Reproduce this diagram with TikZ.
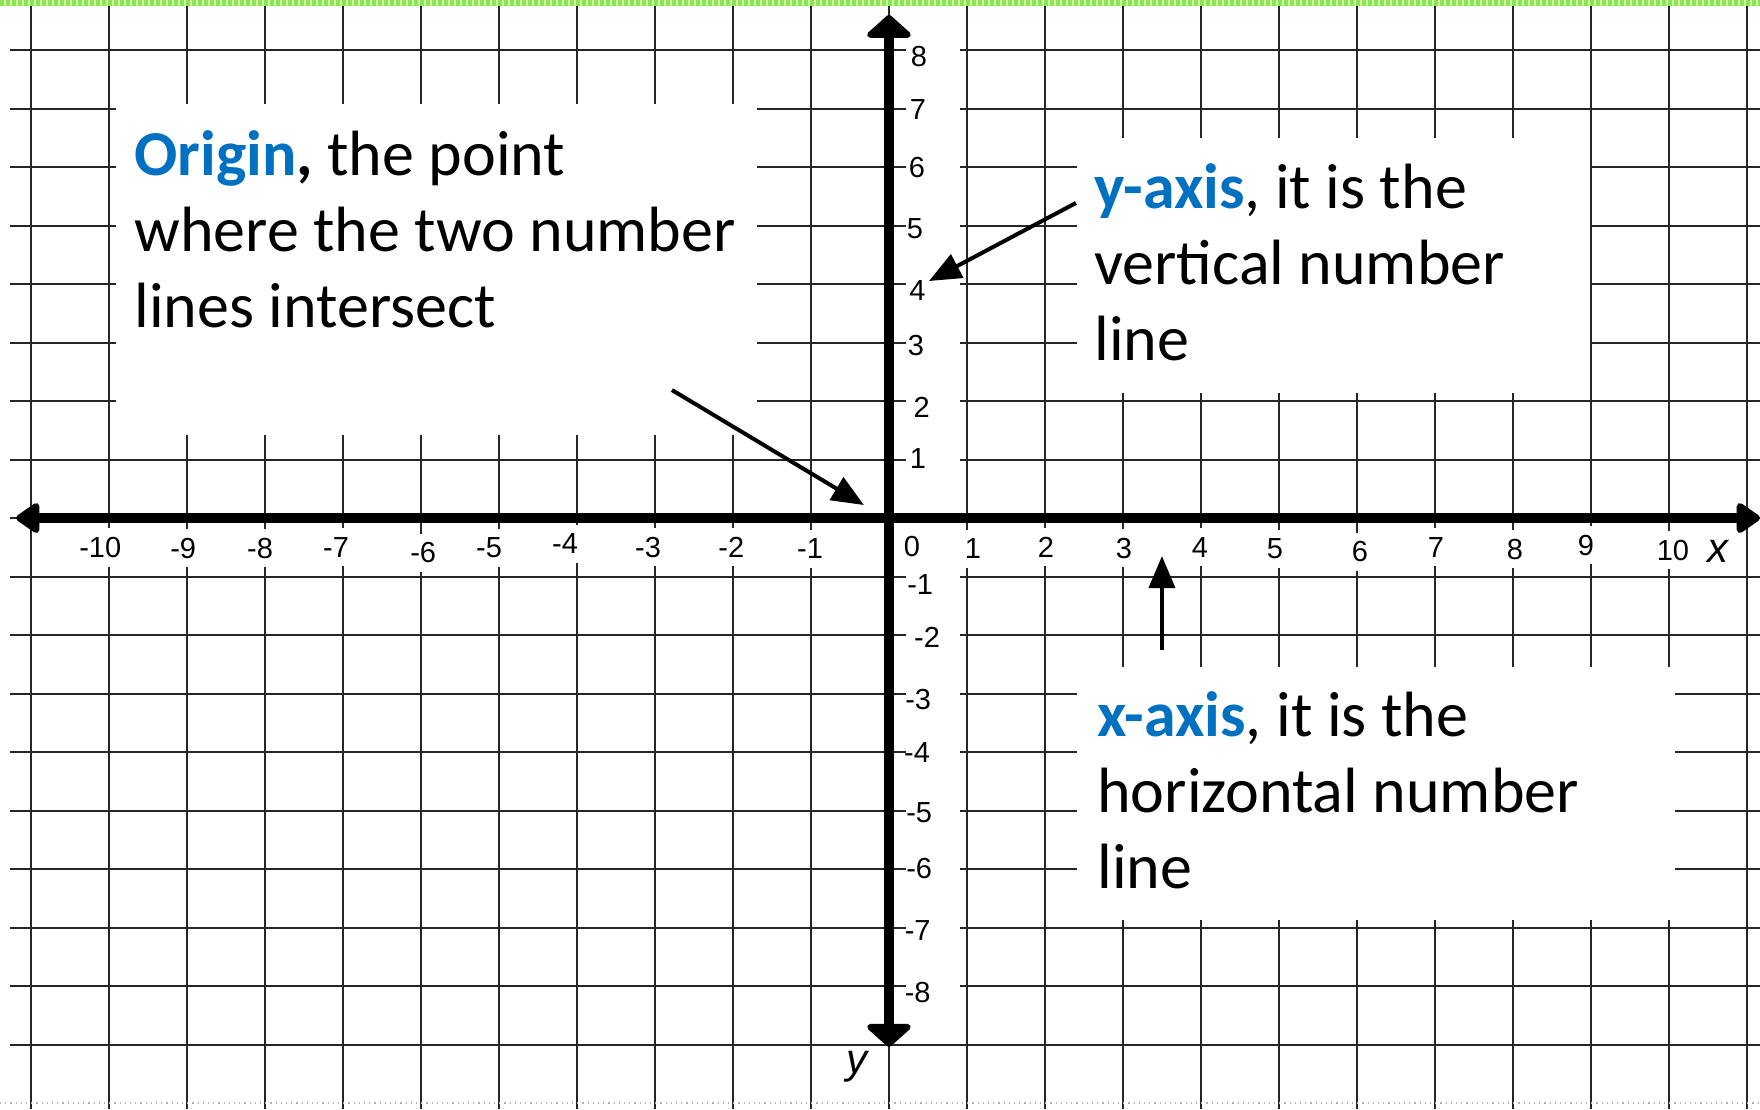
\documentclass[tikz,border=0pt]{standalone}
\usepackage{fontspec}
\setmainfont{Carlito}
\newfontfamily\axisfont{Liberation Sans}
\usetikzlibrary{arrows.meta, positioning}

\definecolor{headblue}{RGB}{0,112,192}
\definecolor{sheetgreen}{RGB}{140,228,80}
\definecolor{palegreen}{RGB}{205,245,175}

\newcommand\negsign{\llap{-}}

\tikzset{
  gridline/.style={line width=1pt, black!85},
  axisline/.style={line width=5pt, black},
  notebox/.style={fill=white, inner sep=0pt, anchor=north west},
  notetext/.style={inner sep=0pt, align=left, font=\fontsize{32}{38}\selectfont},
  xlab/.style={fill=white, inner xsep=1.5pt, inner ysep=4.5pt, font=\axisfont\fontsize{14.5}{17}\selectfont},
  ylab/.style={inner sep=0pt, font=\axisfont\fontsize{14.5}{17}\selectfont},
  varlab/.style={inner sep=0pt, font=\axisfont\itshape\fontsize{21}{24}\selectfont},
  pointer/.style={line width=2pt, -{Triangle[length=16pt, width=13pt]}},
}

\begin{document}
\begin{tikzpicture}[x=39pt, y=29.25pt]
  % sheet
  \fill[white] (-11.397,-10.103) rectangle (11.167,8.855);
  \useasboundingbox (-11.397,-10.103) rectangle (11.167,8.855);
  \draw[palegreen, line width=3pt] (-11.397,8.803) -- (11.167,8.803);
  \draw[sheetgreen, line width=3pt, dash pattern=on 2pt off 1pt] (-11.397,8.803) -- (11.167,8.803);

  % grid
  \foreach \gx in {-11,...,11}
    \draw[gridline] (\gx,8.75) -- (\gx,-10.103);
  \foreach \gy in {-9,...,8}
    \draw[gridline] (-11.27,\gy) -- (11.167,\gy);
  \draw[black!30, line width=0.6pt, dotted] (-11.397,-10) -- (11.167,-10);

  % white strip behind the y numbers
  \fill[white] (0.22,8.75) rectangle (0.91,-8.75);

  % notes
  \node[notebox, minimum width=320.5pt, minimum height=165.5pt] (orgbox) at (-9.91,7.077) {};
  \node[notetext, below right=13.3pt and 9pt of orgbox.north west] (orgtext)
    {\textcolor{headblue}{\textbf{Origin}}\textbf{,} the point\\where the two number\\lines intersect};

  \node[notebox, minimum width=256.5pt, minimum height=127.5pt] (ybox) at (2.41,6.496) {};
  \node[notetext, below right=12.5pt and 8.5pt of ybox.north west] (ytext)
    {\textcolor{headblue}{\textbf{y-axis}}, it is the\\vertical number\\line};

  \node[notebox, minimum width=299pt, minimum height=126.5pt] (xbox) at (2.41,-2.547) {};
  \node[notetext, below right=12pt and 10pt of xbox.north west] (xtext)
    {\textcolor{headblue}{\textbf{x-axis}}, it is the\\horizontal number\\line};

  % numbers on the x-axis
  \foreach \t/\gx/\gy [count=\i] in {\negsign10/-10.05/-0.504, \negsign9/-8.987/-0.513,
      \negsign8/-8.0/-0.513, \negsign7/-7.026/-0.496, \negsign6/-5.91/-0.598,
      \negsign5/-5.064/-0.513, \negsign4/-4.09/-0.444, \negsign3/-3.026/-0.496,
      \negsign2/-1.96/-0.496, \negsign1/-0.949/-0.53, 0/0.295/-0.479,
      1/1.077/-0.53, 2/2.013/-0.496, 3/3.013/-0.513, 4/3.987/-0.496,
      5/4.949/-0.53, 6/6.038/-0.581, 7/7.013/-0.496, 8/8.026/-0.53,
      9/8.936/-0.462, 10/10.05/-0.547}
    \node[xlab] (xnum\i) at (\gx,\gy) {\t};

  % numbers on the y-axis
  \foreach \t/\gx/\gy [count=\i] in {8/0.385/7.897, 7/0.372/6.99, 6/0.359/5.983,
      5/0.333/4.94, 4/0.365/3.897, 3/0.346/2.957, 2/0.419/1.889, 1/0.372/1.009,
      \negsign1/0.462/-1.145, \negsign2/0.551/-2.043, \negsign3/0.436/-3.094,
      \negsign4/0.423/-4.017, \negsign5/0.449/-5.036, \negsign6/0.449/-5.995,
      \negsign7/0.43/-7.043, \negsign8/0.43/-8.111}
    \node[ylab] (ynum\i) at (\gx,\gy) {\t};

  \node[varlab] (xname) at (10.628,-0.564) {x};
  \node[varlab] (yname) at (-0.404,-9.385) {y};

  % axes
  \coordinate (xleft) at (-11.19,0);
  \coordinate (xright) at (11.167,0);
  \coordinate (ytop) at (0,8.6);
  \coordinate (ybottom) at (0,-9.04);
  \draw[axisline, {Triangle[round, length=13pt, width=17pt]}-{Triangle[round, length=13pt, width=17pt]}]
    (xleft) -- (xright);
  \draw[axisline, {Triangle[round, length=12pt, width=26pt]}-{Triangle[round, length=12pt, width=26pt]}]
    (ytop) -- (ybottom);

  % pointers
  \coordinate (orgfrom) at (-2.782,2.188);
  \coordinate (orgto) at (-0.321,0.222);
  \coordinate (yfrom) at (2.397,5.385);
  \coordinate (yto) at (0.513,4.051);
  \coordinate (xfrom) at (3.5,-2.256);
  \coordinate (xto) at (3.5,-0.65);
  \draw[pointer] (orgfrom) -- (orgto);
  \draw[pointer] (yfrom) -- (yto);
  \draw[pointer] (xfrom) -- (xto);
\end{tikzpicture}
\end{document}
